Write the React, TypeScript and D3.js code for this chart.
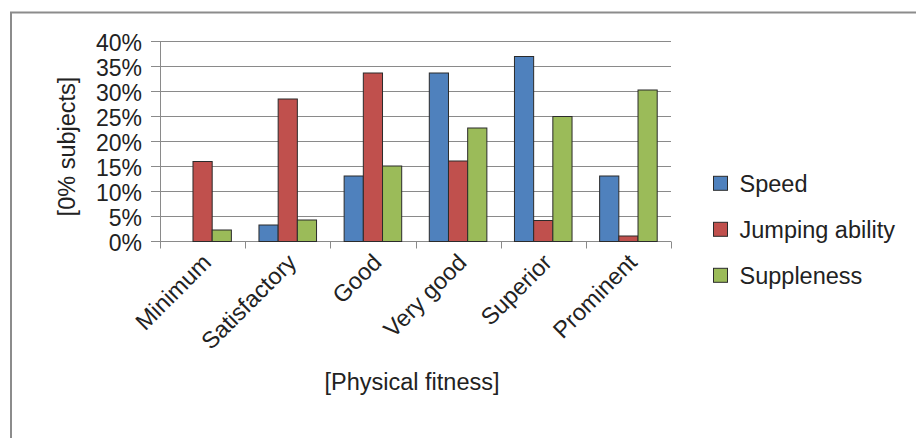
import React from "react";
import * as d3 from "d3";

const categories = ["Minimum", "Satisfactory", "Good", "Very good", "Superior", "Prominent"];
const seriesNames = ["Speed", "Jumping ability", "Suppleness"];
const speed = [0, 3.3, 13.1, 33.7, 37.0, 13.1];
const jumping = [16.0, 28.5, 33.7, 16.1, 4.2, 1.1];
const suppleness = [2.3, 4.3, 15.1, 22.7, 25.0, 30.3];
const yTicks = [0, 5, 10, 15, 20, 25, 30, 35, 40];
const colors = ["#4F81BD", "#C0504D", "#9BBB59"];

const W = 916;
const H = 438;
const FONT = "'Liberation Sans', Arial, sans-serif";

export default function App() {
  const seriesValues = [speed, jumping, suppleness];
  const x = d3.scaleBand<string>().domain(categories).range([160, 671]).padding(0);
  const y = d3.scaleLinear().domain([0, 40]).range([241.5, 41.5]);
  const bw = x.bandwidth();
  const gap = bw * 0.324;
  const inner = d3
    .scaleBand<string>()
    .domain(seriesNames)
    .range([gap / 2, bw - gap / 2])
    .padding(0);
  const tickXs = categories.map((c) => x(c)!).concat([x(categories[categories.length - 1])! + bw]);

  return (
    <svg
      width={W}
      height={H}
      style={{ position: "absolute", left: 0, top: 0, background: "#fff" }}
      fontFamily={FONT}
    >
      <rect x={0} y={0} width={W} height={H} fill="#fff" />
      <rect x={11} y={12.5} width={1000} height={1000} fill="none" stroke="#8c8c8c" strokeWidth={2} />

      {/* gridlines + y ticks */}
      {yTicks.map((t) => (
        <line key={"g" + t} x1={151} x2={671} y1={y(t)} y2={y(t)} stroke="#8a8a8a" strokeWidth={1} />
      ))}
      {yTicks.map((t) => (
        <text
          key={"yl" + t}
          x={142}
          y={y(t) + 9}
          textAnchor="end"
          fontSize={23}
          fill="#222"
        >
          {t + "%"}
        </text>
      ))}

      {/* axes */}
      <line x1={160.5} x2={160.5} y1={y(40)} y2={y(0)} stroke="#8a8a8a" strokeWidth={1} />
      <line x1={160} x2={671} y1={y(0)} y2={y(0)} stroke="#8a8a8a" strokeWidth={1} />
      {tickXs.map((tx, i) => (
        <line
          key={"xt" + i}
          x1={Math.round(tx) + 0.5}
          x2={Math.round(tx) + 0.5}
          y1={y(0)}
          y2={y(0) + 7}
          stroke="#8a8a8a"
          strokeWidth={1}
        />
      ))}

      {/* bars */}
      {seriesValues.map((vals, si) =>
        vals.map((v, ci) =>
          v > 0 ? (
            <rect
              key={"b" + si + "-" + ci}
              x={x(categories[ci])! + inner(seriesNames[si])!}
              y={y(v)}
              width={inner.bandwidth()}
              height={y(0) - y(v)}
              fill={colors[si]}
              stroke="#2b2b2b"
              strokeWidth={1}
            />
          ) : null
        )
      )}

      {/* x labels */}
      {categories.map((c) => {
        const cx = x(c)! + bw / 2 + 10;
        const cy = 264;
        return (
          <text
            key={"xl" + c}
            transform={`translate(${cx},${cy}) rotate(-45)`}
            textAnchor="end"
            fontSize={23.5}
            fill="#222"
          >
            {c}
          </text>
        );
      })}

      {/* axis titles */}
      <text x={412} y={389.5} textAnchor="middle" fontSize={23.5} fill="#222">
        [Physical fitness]
      </text>
      <text
        transform="translate(75,146.5) rotate(-90)"
        textAnchor="middle"
        fontSize={23.5}
        fill="#222"
      >
        [0% subjects]
      </text>

      {/* legend */}
      {seriesNames.map((n, i) => {
        const cy = 183.3 + i * 46;
        return (
          <g key={"lg" + n}>
            <rect x={713.5} y={cy - 7} width={14} height={14} fill={colors[i]} stroke="#2b2b2b" strokeWidth={1} />
            <text x={739.5} y={cy + 8.5} fontSize={23.5} fill="#222">
              {n}
            </text>
          </g>
        );
      })}
    </svg>
  );
}
